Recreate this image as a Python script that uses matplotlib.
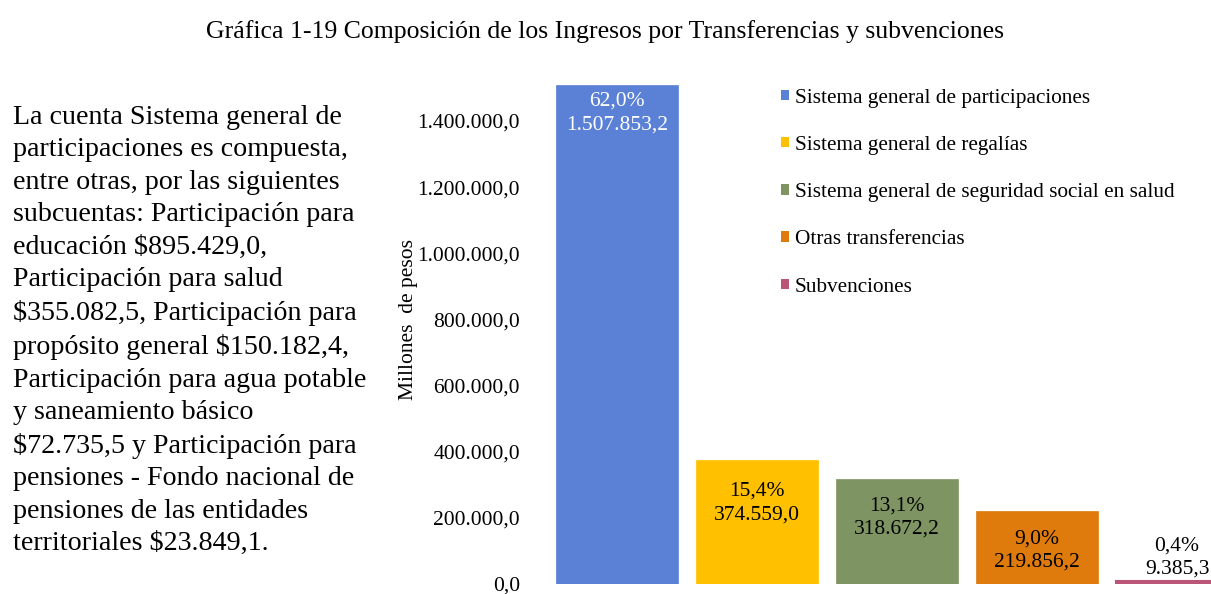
import matplotlib
matplotlib.use("Agg")
import matplotlib.pyplot as plt
from matplotlib.patches import Patch
from matplotlib.ticker import FuncFormatter

plt.rcParams['font.family'] = ['Liberation Serif', 'DejaVu Serif']

categories = ["Sistema general de participaciones",
              "Sistema general de regalías",
              "Sistema general de seguridad social en salud",
              "Otras transferencias",
              "Subvenciones"]
values = [1507853.2, 374559.0, 318672.2, 219856.2, 9385.3]
shares = ["62,0%", "15,4%", "13,1%", "9,0%", "0,4%"]
value_labels = ["1.507.853,2", "374.559,0", "318.672,2", "219.856,2", "9.385,3"]
yticks = [0, 200000, 400000, 600000, 800000, 1000000, 1200000, 1400000]
colors = ["#5B81D6", "#FFC000", "#7E9563", "#DF7B0D", "#BA5577"]
edge_widths = [0.5, 0.5, 0.5, 0.5, 2.2]
label_colors = ["white", "black", "black", "black", "black"]
label_offsets = [-4.5, -15.5, -12.7, -13, 1.5]

title = "Gráfica 1-19 Composición de los Ingresos por Transferencias y subvenciones"
note = ("La cuenta Sistema general de\nparticipaciones es compuesta,\nentre otras, por las siguientes\n"
        "subcuentas: Participación para\neducación $895.429,0,\nParticipación para salud\n"
        "$355.082,5, Participación para\npropósito general $150.182,4,\nParticipación para agua potable\n"
        "y saneamiento básico\n$72.735,5 y Participación para\npensiones - Fondo nacional de\n"
        "pensiones de las entidades\nterritoriales $23.849,1.")

W, H = 1211, 594
fig = plt.figure(figsize=(W/100, H/100), dpi=100)

ypx0, ypx1 = 584, 121
ppu = (ypx0 - ypx1) / 1400000
ytop = 1520000
ax_bottom = (H - ypx0) / H
ax_height = (ytop * ppu) / H
ax = fig.add_axes([547/W, ax_bottom, 700/W, ax_height])
x = list(range(len(values)))
bars = ax.bar(x, values, width=0.871, color=colors, edgecolor=colors, linewidth=edge_widths)
ax.set_xlim(-0.5, 4.5)
ax.set_ylim(0, ytop)
for s in ax.spines.values():
    s.set_visible(False)
ax.set_xticks([])
ax.set_yticks(yticks)
ax.yaxis.set_major_formatter(FuncFormatter(lambda v, p: f"{int(v):,}".replace(",", ".") + ",0"))
ax.tick_params(axis='y', length=0, pad=19.5, labelsize=15.5)
ax.set_ylabel("Millones  de pesos", fontsize=15.5)
ax.yaxis.set_label_coords((418 - 547) / 700, (ypx0 - 320) / (ytop * ppu))

for i, b in enumerate(bars):
    ax.annotate(f"{shares[i]}\n{value_labels[i]}", (b.get_x() + b.get_width()/2, values[i]),
                xytext=(0, label_offsets[i]), textcoords="offset points",
                ha="center", va="top" if i < 4 else "bottom",
                fontsize=15.5, color=label_colors[i], linespacing=1.33, annotation_clip=False)

fig.text(0.5, 1 - 32/H, title, ha="center", va="center", fontsize=18.5)
fig.text(13/W, 1 - 105/H, note, ha="left", va="top", fontsize=20.2, linespacing=1.393,
         family=['Liberation Serif', 'DejaVu Serif'], parse_math=False)

handles = [Patch(facecolor=c, edgecolor="none") for c in colors]
fig.legend(handles=handles, labels=categories, loc="upper left", bbox_to_anchor=(772.5/W, 1 - 80/H),
           frameon=False, fontsize=15.3, handlelength=0.376, handleheight=0.376,
           handletextpad=0.28, labelspacing=1.33, borderaxespad=0)

fig.savefig("out.png", dpi=100)
